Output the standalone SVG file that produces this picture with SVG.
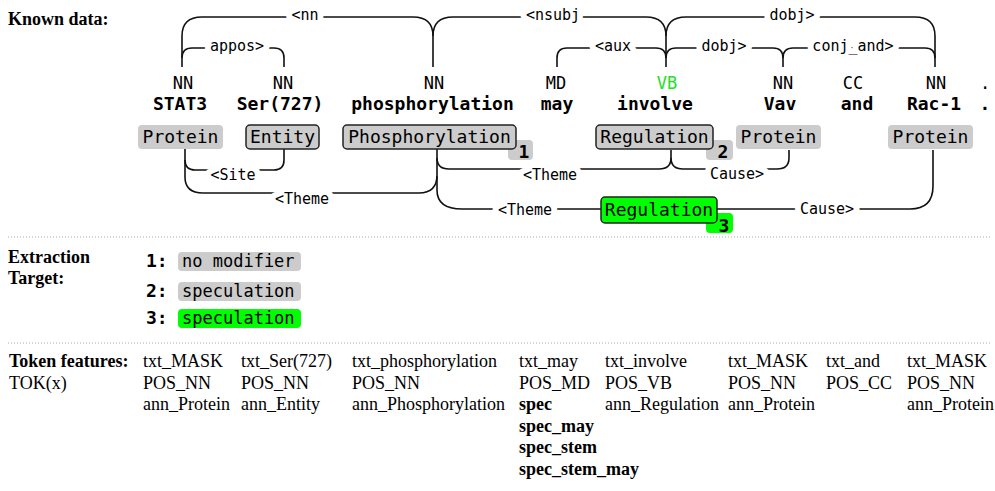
<svg xmlns="http://www.w3.org/2000/svg" width="995" height="491" viewBox="0 0 995 491">
  <style>
    .head { font-family: "Liberation Serif", serif; font-weight: bold; font-size: 18px; fill: #000; }
    .feat { font-family: "Liberation Serif", serif; font-size: 18px; fill: #000; }
    .featb { font-family: "Liberation Serif", serif; font-size: 18px; font-weight: bold; fill: #000; }
    .pos { font-family: "DejaVu Sans Mono", monospace; font-size: 17px; fill: #000; text-anchor: middle; }
    .word { font-family: "DejaVu Sans Mono", monospace; font-size: 18px; font-weight: bold; fill: #000; text-anchor: middle; }
    .ann { font-family: "DejaVu Sans Mono", monospace; font-size: 18px; fill: #000; text-anchor: middle; }
    .badge { font-family: "DejaVu Sans Mono", monospace; font-size: 18px; font-weight: bold; fill: #000; text-anchor: middle; }
    .lbl { font-family: "DejaVu Sans Mono", monospace; font-size: 15px; fill: #000; text-anchor: middle;
           stroke: #fff; stroke-width: 12px; stroke-linejoin: round; paint-order: stroke; }
    .arc { fill: none; stroke: #111; stroke-width: 1.6; }
    .boxb { fill: #cccccc; stroke: #222; stroke-width: 1.5; }
    .boxg { fill: #cccccc; }
    .green { fill: #00ff00; }
    .tgt { font-family: "DejaVu Sans Mono", monospace; font-size: 17px; fill: #000; }
    .tgtn { font-family: "DejaVu Sans Mono", monospace; font-size: 18px; font-weight: bold; fill: #000; }
    .sep { stroke: #aaa; stroke-width: 1; stroke-dasharray: 1 2; }
  </style>

  <!-- section headings -->
  <text class="head" x="8" y="25">Known data:</text>
  <text class="head" x="8" y="263">Extraction</text>
  <text class="head" x="8" y="284">Target:</text>
  <text class="head" x="9" y="367">Token features:</text>
  <text class="feat" x="9" y="388.5">TOK(x)</text>

  <!-- connectors: dependency arcs above, event arguments below -->
  <g id="connectors">
    <path class="arc" d="M182,67 V36 Q182,17 202,17 H413 Q433,17 433,36 V67"/>
    <path class="arc" d="M433,36 Q433,17 453,17 H646 Q666,17 666,36 V67"/>
    <path class="arc" d="M666,36 Q666,17 686,17 H915 Q935,17 935,36 V67"/>
    <path class="arc" d="M182,58 Q182,48 192,48 H274 Q284,48 284,58 V67"/>
    <path class="arc" d="M557,67 V58 Q557,48 567,48 H656 Q666,48 666,58"/>
    <path class="arc" d="M666,58 Q666,48 676,48 H773 Q783,48 783,58 V67"/>
    <path class="arc" d="M783,58 Q783,48 793,48 H925 Q935,48 935,58"/>
    <text class="lbl" x="305" y="20">&lt;nn</text>
    <text class="lbl" x="553" y="20">&lt;nsubj</text>
    <text class="lbl" x="792" y="20">dobj&gt;</text>
    <text class="lbl" x="237" y="51">appos&gt;</text>
    <text class="lbl" x="613" y="51">&lt;aux</text>
    <text class="lbl" x="724" y="51">dobj&gt;</text>
    <text class="lbl" x="853" y="51">conj_and&gt;</text>

    <path class="arc" d="M185,149 V160 Q185,170 195,170 H274 Q284,170 284,160 V149"/>
    <path class="arc" d="M185,160 V177 Q185,193 203,193 H419 Q437,193 437,175 V149"/>
    <path class="arc" d="M437,158 Q437,169 449,169 H659 Q671,169 671,158 V150"/>
    <path class="arc" d="M671,158 Q671,169 683,169 H777 Q789,169 789,158 V150"/>
    <path class="arc" d="M437,176 V190 Q437,209 462,209 H601"/>
    <path class="arc" d="M717,209 H910 Q933,209 933,186 V150"/>
    <text class="lbl" x="233" y="180">&lt;Site</text>
    <text class="lbl" x="302" y="204">&lt;Theme</text>
    <text class="lbl" x="550" y="180">&lt;Theme</text>
    <text class="lbl" x="737" y="179">Cause&gt;</text>
    <text class="lbl" x="525" y="215">&lt;Theme</text>
    <text class="lbl" x="827" y="214">Cause&gt;</text>
  </g>

  <!-- tokens -->
  <g id="tok-stat3"><text class="pos" x="183" y="89">NN</text><text class="word" x="180" y="110">STAT3</text></g>
  <g id="tok-ser727"><text class="pos" x="283" y="89">NN</text><text class="word" x="280" y="110">Ser(727)</text></g>
  <g id="tok-phosphorylation"><text class="pos" x="434" y="89">NN</text><text class="word" x="432.5" y="110">phosphorylation</text></g>
  <g id="tok-may"><text class="pos" x="556" y="89">MD</text><text class="word" x="557" y="110">may</text></g>
  <g id="tok-involve"><text class="pos" x="667" y="89" style="fill:#22e022">VB</text><text class="word" x="655" y="110">involve</text></g>
  <g id="tok-vav"><text class="pos" x="783" y="89">NN</text><text class="word" x="780" y="110">Vav</text></g>
  <g id="tok-and"><text class="pos" x="853" y="89">CC</text><text class="word" x="857" y="110">and</text></g>
  <g id="tok-rac1"><text class="pos" x="936" y="89">NN</text><text class="word" x="934" y="110">Rac-1</text></g>
  <g id="tok-period"><text class="pos" x="985" y="89">.</text><text class="word" x="985" y="110">.</text></g>

  <!-- annotations -->
  <g id="ann-protein-stat3">
    <rect class="boxg" x="138" y="125" width="85" height="24" rx="4"/>
    <text class="ann" x="180.5" y="143">Protein</text>
  </g>
  <g id="ann-entity">
    <rect class="boxb" x="246" y="125" width="73" height="24" rx="4"/>
    <text class="ann" x="282.5" y="143">Entity</text>
  </g>
  <g id="ann-phosphorylation">
    <rect class="boxg" x="508" y="140" width="25" height="20" rx="4"/>
    <text class="badge" x="524" y="158">1</text>
    <rect class="boxb" x="343" y="125" width="173" height="24" rx="4"/>
    <text class="ann" x="429.5" y="143">Phosphorylation</text>
  </g>
  <g id="ann-regulation">
    <rect class="boxg" x="706" y="140" width="27" height="20" rx="4"/>
    <text class="badge" x="723" y="158">2</text>
    <rect class="boxb" x="596" y="125" width="117" height="24" rx="4"/>
    <text class="ann" x="654.5" y="143">Regulation</text>
  </g>
  <g id="ann-protein-vav">
    <rect class="boxg" x="736" y="125" width="85" height="24" rx="4"/>
    <text class="ann" x="778.5" y="143">Protein</text>
  </g>
  <g id="ann-protein-rac1">
    <rect class="boxg" x="888" y="125" width="85" height="24" rx="4"/>
    <text class="ann" x="930.5" y="143">Protein</text>
  </g>
  <g id="ann-regulation-3">
    <rect class="green" x="706" y="213" width="27" height="20" rx="4"/>
    <text class="badge" x="724" y="232">3</text>
    <rect class="green" x="601" y="197" width="116" height="26" rx="4" stroke="#222" stroke-width="1.5"/>
    <text class="ann" x="659" y="216">Regulation</text>
  </g>

  <!-- separators -->
  <line class="sep" x1="8" y1="237" x2="990" y2="237"/>
  <line class="sep" x1="8" y1="343" x2="990" y2="343"/>

  <!-- extraction targets -->
  <g id="target-1">
    <text class="tgtn" x="146" y="267">1:</text>
    <rect class="boxg" x="178" y="252" width="123" height="19" rx="4"/>
    <text class="tgt" x="182" y="267">no modifier</text>
  </g>
  <g id="target-2">
    <text class="tgtn" x="146" y="297">2:</text>
    <rect class="boxg" x="178" y="282" width="123" height="19" rx="4"/>
    <text class="tgt" x="182" y="297">speculation</text>
  </g>
  <g id="target-3">
    <text class="tgtn" x="146" y="324">3:</text>
    <rect class="green" x="178" y="309" width="123" height="19" rx="4"/>
    <text class="tgt" x="182" y="324">speculation</text>
  </g>

  <!-- token feature columns -->
  <g id="feat-1" class="feat"><text x="143" y="367">txt_MASK</text><text x="143" y="388.5">POS_NN</text><text x="143" y="410">ann_Protein</text></g>
  <g id="feat-2" class="feat"><text x="241" y="367">txt_Ser(727)</text><text x="241" y="388.5">POS_NN</text><text x="241" y="410">ann_Entity</text></g>
  <g id="feat-3" class="feat"><text x="352" y="367">txt_phosphorylation</text><text x="352" y="388.5">POS_NN</text><text x="352" y="410">ann_Phosphorylation</text></g>
  <g id="feat-4">
    <text class="feat" x="519" y="367">txt_may</text><text class="feat" x="519" y="388.5">POS_MD</text>
    <text class="featb" x="519" y="410">spec</text><text class="featb" x="519" y="431.5">spec_may</text>
    <text class="featb" x="519" y="453">spec_stem</text><text class="featb" x="519" y="474.5">spec_stem_may</text>
  </g>
  <g id="feat-5" class="feat"><text x="605" y="367">txt_involve</text><text x="605" y="388.5">POS_VB</text><text x="605" y="410">ann_Regulation</text></g>
  <g id="feat-6" class="feat"><text x="728" y="367">txt_MASK</text><text x="728" y="388.5">POS_NN</text><text x="728" y="410">ann_Protein</text></g>
  <g id="feat-7" class="feat"><text x="826" y="367">txt_and</text><text x="826" y="388.5">POS_CC</text></g>
  <g id="feat-8" class="feat"><text x="907" y="367">txt_MASK</text><text x="907" y="388.5">POS_NN</text><text x="907" y="410">ann_Protein</text></g>
</svg>
